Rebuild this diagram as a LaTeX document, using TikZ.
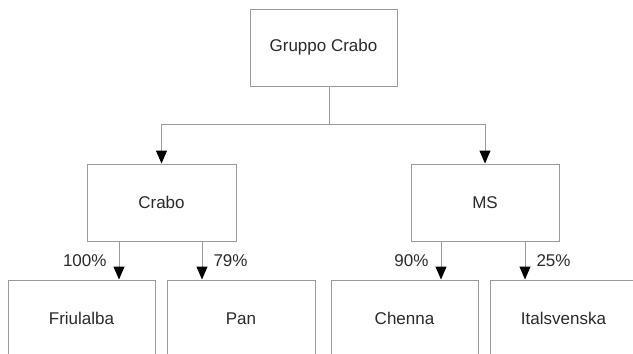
\documentclass[tikz,border=0pt]{standalone}
\usepackage{fontspec}
\setmainfont{Liberation Sans}
\usetikzlibrary{arrows.meta}
\definecolor{linegray}{HTML}{9A9A9A}
\definecolor{txt}{HTML}{2A2A2A}
\begin{document}
\begin{tikzpicture}[x=1pt,y=-1pt,
  box/.style={draw=linegray, line width=1pt, minimum width=147pt, minimum height=77pt, inner sep=0pt, text=txt, font=\fontsize{17}{20}\selectfont},
  conn/.style={draw=linegray, line width=1pt},
  arr/.style={conn, -{Triangle[width=11pt,length=13pt,color=black,fill=black]}},
  pct/.style={inner sep=0pt, text=txt, font=\fontsize{17}{20}\selectfont}]
\useasboundingbox (0,0) rectangle (633,354);
\clip (0,0) rectangle (633,354);
\fill[white] (0,0) rectangle (633,354);
\node[box] (top) at (323.5,47.5) {Gruppo Crabo};
\node[box, minimum width=149pt] (crabo) at (161.5,202.5) {Crabo};
\node[box, minimum width=148pt] (ms) at (485,202.5) {MS};
\node[box] (friul) at (81.5,318.5) {Friulalba};
\node[box, minimum width=148pt] (pan) at (241,318.5) {Pan};
\node[box] (chenna) at (404.5,318.5) {Chenna};
\node[box] (ital) at (563.5,318.5) {Italsvenska};
\coordinate (j) at (329,124);
\coordinate (a1) at (119,0);
\coordinate (a2) at (202,0);
\coordinate (a3) at (441,0);
\coordinate (a4) at (525,0);
\draw[conn] (top.south -| j) -- (j);
\draw[arr] (j) -| (crabo.north);
\draw[arr] (j) -| (ms.north);
\draw[arr] (crabo.south -| a1) -- node[pct, midway, anchor=east, xshift=-12pt] (p1) {100\%} (friul.north -| a1);
\draw[arr] (crabo.south -| a2) -- node[pct, midway, anchor=west, xshift=11pt] (p2) {79\%} (pan.north -| a2);
\draw[arr] (ms.south -| a3) -- node[pct, midway, anchor=east, xshift=-12pt] (p3) {90\%} (chenna.north -| a3);
\draw[arr] (ms.south -| a4) -- node[pct, midway, anchor=west, xshift=11pt] (p4) {25\%} (ital.north -| a4);
\end{tikzpicture}
\end{document}
